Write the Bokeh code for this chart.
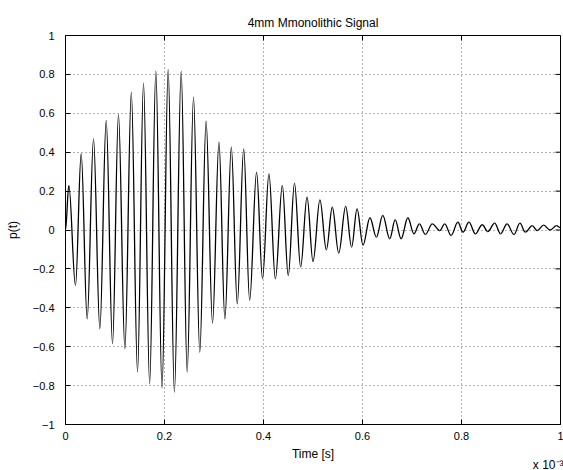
from bokeh.plotting import figure
from bokeh.models import FixedTicker, CustomJSTickFormatter, Range1d, Title
from bokeh.embed import file_html
from bokeh.resources import INLINE

# ---- data (time in units of 1e-3 s, pressure p(t)) : extremes
time_ms = [0.000, 0.0067, 0.0202, 0.0317, 0.0438, 0.0566, 0.0694, 0.0822, 0.095, 0.107,
           0.120, 0.133, 0.1455, 0.1576, 0.170, 0.1825, 0.195, 0.2074, 0.220, 0.2337,
           0.2458, 0.2586, 0.2713, 0.284, 0.297, 0.310, 0.322, 0.335, 0.347, 0.360,
           0.372, 0.386, 0.398, 0.411, 0.424, 0.438, 0.450, 0.4626, 0.475, 0.488,
           0.500, 0.514, 0.527, 0.539, 0.552, 0.566, 0.578, 0.589, 0.601, 0.615,
           0.628, 0.641, 0.655, 0.666, 0.678, 0.6916, 0.704, 0.715, 0.727, 0.741,
           0.756, 0.766, 0.779, 0.7926, 0.803, 0.815, 0.828, 0.842, 0.853, 0.867,
           0.879, 0.892, 0.906, 0.918, 0.929, 0.943, 0.953, 0.966, 0.979, 0.992, 1.000]
pressure = [0.00, 0.229, -0.285, 0.392, -0.457, 0.469, -0.508, 0.563, -0.585, 0.594,
            -0.611, 0.709, -0.731, 0.755, -0.791, 0.817, -0.812, 0.824, -0.834, 0.817,
            -0.731, 0.683, -0.628, 0.560, -0.479, 0.452, -0.457, 0.426, -0.380, 0.417,
            -0.362, 0.297, -0.250, 0.289, -0.251, 0.229, -0.234, 0.241, -0.191, 0.169,
            -0.162, 0.155, -0.102, 0.117, -0.119, 0.121, -0.088, 0.109, -0.078, 0.063,
            -0.037, 0.075, -0.045, 0.052, -0.045, 0.063, -0.020, 0.032, -0.023, 0.032,
            -0.003, 0.032, -0.028, 0.040, -0.011, 0.040, -0.020, 0.027, -0.008, 0.035,
            -0.020, 0.032, -0.023, 0.035, -0.011, 0.023, -0.003, 0.025, 0.000, 0.022, 0.012]

x_ticks = [0, 0.2, 0.4, 0.6, 0.8, 1.0]
y_ticks = [-1, -0.8, -0.6, -0.4, -0.2, 0, 0.2, 0.4, 0.6, 0.8, 1.0]

FONT = "Liberation Sans"
X0, X1, Y0, Y1 = 0.0, 1.0, -1.0, 1.0
W, H = 563, 470
BL, BR, BT, BB = 65, 3, 35, 46
TICK = 5  # px

p = figure(width=W, height=H, output_backend="svg", toolbar_location=None,
           x_range=Range1d(X0, X1), y_range=Range1d(Y0, Y1),
           x_axis_label="Time [s]", y_axis_label="p(t)",
           min_border_left=BL, min_border_right=BR, min_border_top=BT, min_border_bottom=BB,
           title="4mm Mmonolithic Signal")
p.background_fill_color = "white"
p.border_fill_color = "white"
p.outline_line_color = "black"
p.outline_line_width = 1

p.title.align = "center"
p.title.text_font = FONT
p.title.text_font_size = "12px"
p.title.text_font_style = "normal"
p.title.text_color = "black"
p.title.standoff = 12

fmt = CustomJSTickFormatter(code="""
var s = (Math.abs(tick - Math.round(tick)) < 1e-9) ? Math.round(tick).toString() : tick.toFixed(1);
if (s == '-0') { s = '0'; }
return s.replace('-', '\u2212');
""")

for ax, ticks in ((p.xaxis[0], x_ticks), (p.yaxis[0], y_ticks)):
    ax.ticker = FixedTicker(ticks=ticks)
    ax.formatter = fmt
    ax.major_tick_in = TICK
    ax.major_tick_out = 0
    ax.minor_tick_line_color = None
    ax.axis_line_color = "black"
    ax.major_tick_line_color = "black"
    ax.major_label_text_font = FONT
    ax.major_label_text_font_size = "11px"
    ax.major_label_text_color = "black"
    ax.axis_label_text_font = FONT
    ax.axis_label_text_font_size = "12px"
    ax.axis_label_text_font_style = "normal"
    ax.axis_label_text_color = "black"

p.xaxis[0].major_label_standoff = 7
p.xaxis[0].axis_label_standoff = 4
p.yaxis[0].major_label_standoff = 11
p.yaxis[0].axis_label_standoff = 10

for g, ticks in ((p.xgrid[0], x_ticks), (p.ygrid[0], y_ticks)):
    g.ticker = FixedTicker(ticks=ticks)
    g.grid_line_color = "black"
    g.grid_line_dash = "1 3"
    g.grid_line_width = 1
    g.grid_line_alpha = 0.6

# mirrored inward ticks on top and right (box on)
frame_w = W - BL - BR
frame_h = H - BT - BB
dy = TICK * (Y1 - Y0) / frame_h
dx = TICK * (X1 - X0) / frame_w
p.segment(x0=x_ticks, y0=[Y1] * len(x_ticks), x1=x_ticks, y1=[Y1 - dy] * len(x_ticks),
          line_color="black", line_width=1)
p.segment(x0=[X1] * len(y_ticks), y0=y_ticks, x1=[X1 - dx] * len(y_ticks), y1=y_ticks,
          line_color="black", line_width=1)

# smooth signal through the read extremes (half-cycle curves with flat tangents)
K = 0.3634
xs0, xs1 = time_ms[:-1], time_ms[1:]
ys0, ys1 = pressure[:-1], pressure[1:]
p.bezier(x0=xs0, y0=ys0, x1=xs1, y1=ys1,
         cx0=[a + K * (b - a) for a, b in zip(xs0, xs1)], cy0=ys0,
         cx1=[b - K * (b - a) for a, b in zip(xs0, xs1)], cy1=ys1,
         line_color="black", line_width=1.3)

# exponent note "x 10^-3" at the bottom right
exp_note = Title(text="x 10\u207b\u00b3", align="right", text_font=FONT, text_font_size="12px",
                 text_font_style="normal", text_color="black", standoff=-16, offset=-3)
p.add_layout(exp_note, "below")

open("out.html", "w").write(file_html(p, INLINE))
